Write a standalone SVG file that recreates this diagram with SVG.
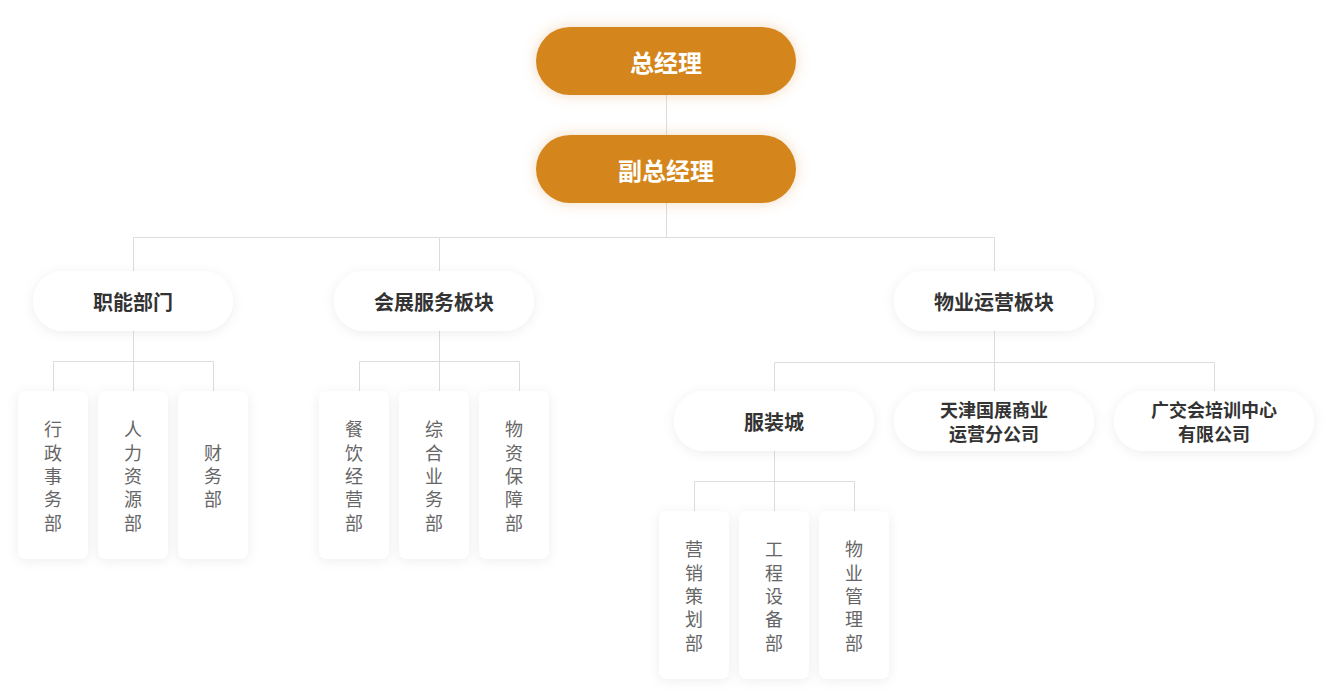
<svg xmlns="http://www.w3.org/2000/svg" width="1331" height="697" viewBox="0 0 1331 697">
<defs>
<filter id="oshadow" x="-30%" y="-60%" width="160%" height="220%">
<feGaussianBlur in="SourceAlpha" stdDeviation="7" result="b"/>
<feFlood flood-color="#e0a060" flood-opacity="0.4"/>
<feComposite operator="in" in2="b"/>
<feMerge><feMergeNode/><feMergeNode in="SourceGraphic"/></feMerge>
</filter>
<filter id="wshadow" x="-30%" y="-40%" width="160%" height="180%">
<feGaussianBlur in="SourceAlpha" stdDeviation="6" result="b"/>
<feOffset dy="2" in="b" result="o"/>
<feFlood flood-color="#000" flood-opacity="0.07"/>
<feComposite operator="in" in2="o"/>
<feMerge><feMergeNode/><feMergeNode in="SourceGraphic"/></feMerge>
</filter>
</defs>
<style>
.top{fill:#d4861a;filter:url(#oshadow)}
.pill{fill:#fff;filter:url(#wshadow)}
.box{fill:#fff;filter:url(#wshadow)}
.tt{font-family:"Noto Sans CJK SC","Noto Sans",sans-serif;font-weight:700;font-size:24px;fill:#fff;text-anchor:middle;dominant-baseline:central}
.pt{font-family:"Noto Sans CJK SC","Noto Sans",sans-serif;font-weight:700;font-size:20px;fill:#333;text-anchor:middle;dominant-baseline:central}
.pt2{font-family:"Noto Sans CJK SC","Noto Sans",sans-serif;font-weight:700;font-size:18px;fill:#333;text-anchor:middle;dominant-baseline:central}
.vt{font-family:"Noto Sans CJK SC","Noto Sans",sans-serif;font-size:18px;fill:#666;text-anchor:middle;dominant-baseline:central}
.ln{fill:none;stroke:#dcdcdc;stroke-width:1}
</style>
<rect width="1331" height="697" fill="#fff"/>
<g id="connectors" class="ln">
<path d="M666.5 95V135M666.5 203V237.5M133.5 237.5H994.5M133.5 237.5V271M439.5 237.5V271M994.5 237.5V271"/>
<path d="M133.5 331V361.5M53.5 361.5H213.5M53.5 361.5V391M133.5 361.5V391M213.5 361.5V391"/>
<path d="M439.5 331V361.5M359.5 361.5H519.5M359.5 361.5V391M439.5 361.5V391M519.5 361.5V391"/>
<path d="M994.5 331V362.5M774.5 362.5H1214.5M774.5 362.5V391M994.5 362.5V391M1214.5 362.5V391"/>
<path d="M774.5 451V481.5M694.5 481.5H854.5M694.5 481.5V511M774.5 481.5V511M854.5 481.5V511"/>
</g>
<g id="n-gm"><rect class="top" x="536" y="27" width="260" height="68" rx="34"/><text class="tt" x="666" y="61">总经理</text></g>
<g id="n-dgm"><rect class="top" x="536" y="135" width="260" height="68" rx="34"/><text class="tt" x="666" y="169">副总经理</text></g>
<g id="n-func"><rect class="pill" x="33" y="271" width="200" height="60" rx="30"/><text class="pt" x="133" y="301">职能部门</text></g>
<g id="n-expo"><rect class="pill" x="334" y="271" width="200" height="60" rx="30"/><text class="pt" x="434" y="301">会展服务板块</text></g>
<g id="n-prop"><rect class="pill" x="894" y="271" width="200" height="60" rx="30"/><text class="pt" x="994" y="301">物业运营板块</text></g>
<g id="n-admin"><rect class="box" x="18" y="391" width="70" height="168" rx="8"/><text class="vt"><tspan x="53" y="428">行</tspan><tspan x="53" y="452">政</tspan><tspan x="53" y="475">事</tspan><tspan x="53" y="498">务</tspan><tspan x="53" y="522">部</tspan></text></g>
<g id="n-hr"><rect class="box" x="98" y="391" width="70" height="168" rx="8"/><text class="vt"><tspan x="133" y="428">人</tspan><tspan x="133" y="452">力</tspan><tspan x="133" y="475">资</tspan><tspan x="133" y="498">源</tspan><tspan x="133" y="522">部</tspan></text></g>
<g id="n-fin"><rect class="box" x="178" y="391" width="70" height="168" rx="8"/><text class="vt"><tspan x="213" y="452">财</tspan><tspan x="213" y="475">务</tspan><tspan x="213" y="498">部</tspan></text></g>
<g id="n-food"><rect class="box" x="319" y="391" width="70" height="168" rx="8"/><text class="vt"><tspan x="354" y="428">餐</tspan><tspan x="354" y="452">饮</tspan><tspan x="354" y="475">经</tspan><tspan x="354" y="498">营</tspan><tspan x="354" y="522">部</tspan></text></g>
<g id="n-general"><rect class="box" x="399" y="391" width="70" height="168" rx="8"/><text class="vt"><tspan x="434" y="428">综</tspan><tspan x="434" y="452">合</tspan><tspan x="434" y="475">业</tspan><tspan x="434" y="498">务</tspan><tspan x="434" y="522">部</tspan></text></g>
<g id="n-supply"><rect class="box" x="479" y="391" width="70" height="168" rx="8"/><text class="vt"><tspan x="514" y="428">物</tspan><tspan x="514" y="452">资</tspan><tspan x="514" y="475">保</tspan><tspan x="514" y="498">障</tspan><tspan x="514" y="522">部</tspan></text></g>
<g id="n-mall"><rect class="pill" x="674" y="391" width="200" height="60" rx="30"/><text class="pt" x="774" y="421">服装城</text></g>
<g id="n-tj"><rect class="pill" x="894" y="391" width="200" height="60" rx="30"/><text class="pt2"><tspan x="994" y="409">天津国展商业</tspan><tspan x="994" y="433">运营分公司</tspan></text></g>
<g id="n-gj"><rect class="pill" x="1114" y="391" width="200" height="60" rx="30"/><text class="pt2"><tspan x="1214" y="409">广交会培训中心</tspan><tspan x="1214" y="433">有限公司</tspan></text></g>
<g id="n-mkt"><rect class="box" x="659" y="511" width="70" height="168" rx="8"/><text class="vt"><tspan x="694" y="548">营</tspan><tspan x="694" y="572">销</tspan><tspan x="694" y="595">策</tspan><tspan x="694" y="618">划</tspan><tspan x="694" y="642">部</tspan></text></g>
<g id="n-eng"><rect class="box" x="739" y="511" width="70" height="168" rx="8"/><text class="vt"><tspan x="774" y="548">工</tspan><tspan x="774" y="572">程</tspan><tspan x="774" y="595">设</tspan><tspan x="774" y="618">备</tspan><tspan x="774" y="642">部</tspan></text></g>
<g id="n-pm"><rect class="box" x="819" y="511" width="70" height="168" rx="8"/><text class="vt"><tspan x="854" y="548">物</tspan><tspan x="854" y="572">业</tspan><tspan x="854" y="595">管</tspan><tspan x="854" y="618">理</tspan><tspan x="854" y="642">部</tspan></text></g>
</svg>
